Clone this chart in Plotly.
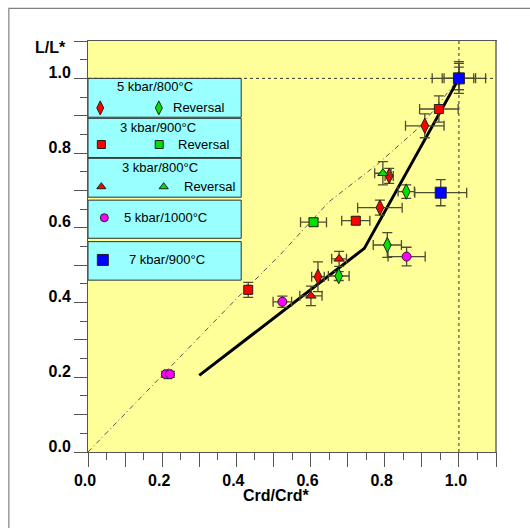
import plotly.graph_objects as go

# ---------------- data ----------------
# 5 kbar/800°C (red diamonds)
d58_x = [1.0, 0.908, 0.812, 0.787, 0.620]
d58_y = [1.0, 0.873, 0.739, 0.654, 0.469]
d58_ex = [0.072, 0.052, 0.011, 0.060, 0.017]
d58_ey = [0.040, 0.032, 0.020, 0.020, 0.040]
# 5 kbar/800°C reversal (green diamonds)
r58_x = [0.858, 0.807, 0.676]
r58_y = [0.697, 0.554, 0.471]
r58_ex = [0.022, 0.038, 0.028]
r58_ey = [0.018, 0.033, 0.012]
# 3 kbar/900°C (red squares)
d39_x = [1.0, 0.946, 0.722, 0.432]
d39_y = [1.0, 0.918, 0.619, 0.434]
d39_ex = [0.045, 0.052, 0.038, 0.004]
d39_ey = [0.030, 0.035, 0.010, 0.020]
# 3 kbar/900°C reversal (green squares)
r39_x = [0.608]
r39_y = [0.615]
r39_ex = [0.035]
r39_ey = [0.010]
# 3 kbar/800°C (red triangles)
d38_x = [0.677, 0.601]
d38_y = [0.517, 0.418]
d38_ex = [0.020, 0.030]
d38_ey = [0.020, 0.026]
# 3 kbar/800°C reversal (green triangles)
r38_x = [0.795]
r38_y = [0.746]
r38_ex = [0.022]
r38_ey = [0.031]
# 5 kbar/1000°C (magenta circles)
d510_x = [0.859, 0.524, 0.210, 0.221]
d510_y = [0.523, 0.402, 0.208, 0.208]
d510_ex = [0.050, 0.025, 0.004, 0.004]
d510_ey = [0.025, 0.015, 0.008, 0.008]
# 7 kbar/900°C (blue squares)
d79_x = [1.0, 0.951]
d79_y = [1.0, 0.694]
d79_ex = [0.040, 0.070]
d79_eyp = [0.045, 0.035]
d79_eym = [0.030, 0.035]

# trend lines
fit_x = [0.30, 0.745, 1.0]
fit_y = [0.205, 0.545, 1.0]
ref_x = [0.0, 0.2, 0.4, 0.52, 0.65, 0.78, 0.90, 1.0]
ref_y = [0.0, 0.205, 0.41, 0.53, 0.67, 0.77, 0.875, 1.0]

# axis ticks
tick_vals = [0.0, 0.1, 0.2, 0.3, 0.4, 0.5, 0.6, 0.7, 0.8, 0.9, 1.0, 1.1]
tick_text = ["0.0", "", "0.2", "", "0.4", "", "0.6", "", "0.8", "", "1.0", ""]

legend_titles = ["5 kbar/800°C", "3 kbar/900°C", "3 kbar/800°C", "5 kbar/1000°C", "7 kbar/900°C"]
reversal_label = "Reversal"

# ---------------- styles ----------------
RED = "#FF0000"
GREEN = "#00E000"
MAG = "#FF00FF"
BLUE = "#0000FF"
EBC = "#4d4d33"
FONT = "Liberation Sans, Arial, sans-serif"

fig = go.Figure()


def add_series(x, y, ex, ey, symbol, color, size, eym=None):
    ey_dict = dict(type="data", array=ey, color=EBC, thickness=1.3, width=5)
    if eym is not None:
        ey_dict["arrayminus"] = eym
        ey_dict["symmetric"] = False
    fig.add_trace(go.Scatter(
        x=x, y=y, mode="markers",
        marker=dict(symbol=symbol, color=color, size=size,
                    line=dict(color="#202020", width=1)),
        error_x=dict(type="data", array=ex, color=EBC, thickness=1.3, width=5),
        error_y=ey_dict,
        showlegend=False, hoverinfo="skip"))


# reference lines
fig.add_trace(go.Scatter(x=ref_x, y=ref_y, mode="lines",
                         line=dict(color="#555555", width=1, dash="5px,3px,1px,3px"),
                         showlegend=False, hoverinfo="skip"))
fig.add_trace(go.Scatter(x=fit_x, y=fit_y, mode="lines",
                         line=dict(color="black", width=3),
                         showlegend=False, hoverinfo="skip"))

add_series(d58_x, d58_y, d58_ex, d58_ey, "diamond-tall", RED, 11)
add_series(d39_x, d39_y, d39_ex, d39_ey, "square", RED, 9)
add_series(r58_x, r58_y, r58_ex, r58_ey, "diamond-tall", GREEN, 11)
add_series(r39_x, r39_y, r39_ex, r39_ey, "square", GREEN, 9)
add_series(d38_x, d38_y, d38_ex, d38_ey, "triangle-up", RED, 9)
add_series(r38_x, r38_y, r38_ex, r38_ey, "triangle-up", GREEN, 9)
add_series(d510_x, d510_y, d510_ex, d510_ey, "circle", MAG, 9)
add_series(d79_x, d79_y, d79_ex, d79_eyp, "square", BLUE, 11, eym=d79_eym)

# ---------------- legend boxes ----------------
BOX_X1 = 0.413
box_y = [(1.0, 0.896), (0.893, 0.788), (0.786, 0.682), (0.674, 0.572), (0.563, 0.460)]
shapes = [
    dict(type="line", xref="x", yref="y", x0=0, x1=1.1, y0=1.0, y1=1.0,
         line=dict(color="#333333", width=1, dash="dot"), layer="below"),
    dict(type="line", xref="x", yref="y", x0=1.0, x1=1.0, y0=0, y1=1.1,
         line=dict(color="#333333", width=1, dash="dot"), layer="below"),
]
for (yt, yb) in box_y:
    shapes.append(dict(type="rect", xref="x", yref="y", x0=0.0, x1=BOX_X1, y0=yb, y1=yt,
                       fillcolor="#99FFFF", line=dict(color="#303030", width=1), layer="below"))
# outer frame
shapes.append(dict(type="rect", xref="paper", yref="paper",
                   x0=-0.194, x1=1.12, y0=-0.22, y1=1.0796,
                   line=dict(color="#808080", width=1.2), fillcolor="rgba(0,0,0,0)", layer="below"))
# gray right border of plot area
shapes.append(dict(type="line", xref="paper", yref="paper", x0=1.0, x1=1.0, y0=0, y1=1,
                   line=dict(color="#8c8c8c", width=2), layer="above"))

# legend markers
leg_marks = [
    (0.033, 0.921, "diamond-tall", RED, 10),
    (0.191, 0.921, "diamond-tall", GREEN, 10),
    (0.036, 0.823, "square", RED, 8),
    (0.192, 0.823, "square", GREEN, 8),
    (0.036, 0.710, "triangle-up", RED, 8),
    (0.204, 0.710, "triangle-up", GREEN, 8),
    (0.044, 0.627, "circle", MAG, 8),
    (0.040, 0.514, "square", BLUE, 11),
]
for (lx, ly, sym, col, sz) in leg_marks:
    fig.add_trace(go.Scatter(x=[lx], y=[ly], mode="markers",
                             marker=dict(symbol=sym, color=col, size=sz,
                                         line=dict(color="#202020", width=1)),
                             showlegend=False, hoverinfo="skip"))

annotations = []
title_pos = [(0.181, 0.977), (0.188, 0.869), (0.195, 0.762), (0.209, 0.627), (0.214, 0.514)]
for t, (ax_, ay_) in zip(legend_titles, title_pos):
    annotations.append(dict(x=ax_, y=ay_, xref="x", yref="y", text=t, showarrow=False,
                            xanchor="center", yanchor="middle",
                            font=dict(family=FONT, size=13, color="black")))
for (ax_, ay_) in [(0.224, 0.921), (0.237, 0.823), (0.254, 0.710)]:
    annotations.append(dict(x=ax_, y=ay_, xref="x", yref="y", text=reversal_label, showarrow=False,
                            xanchor="left", yanchor="middle",
                            font=dict(family=FONT, size=13, color="black")))
# axis titles
annotations.append(dict(x=-0.0496, y=0.984, xref="paper", yref="paper", text="<b>L/L*</b>",
                        showarrow=False, xanchor="right", yanchor="middle",
                        font=dict(family=FONT, size=16, color="black")))
annotations.append(dict(x=0.462, y=-0.106, xref="paper", yref="paper", text="<b>Crd/Crd*</b>",
                        showarrow=False, xanchor="center", yanchor="middle",
                        font=dict(family=FONT, size=16, color="black")))

axis_common = dict(
    range=[0, 1.1], tickmode="array", tickvals=tick_vals, ticktext=tick_text,
    ticks="outside", ticklen=14, tickwidth=1, tickcolor="#555555",
    showline=True, linecolor="#555555", linewidth=1, mirror=True,
    showgrid=False, zeroline=False,
    tickfont=dict(family=FONT, size=16, color="black", weight="bold"),
    minor=dict(ticks="outside", ticklen=7, tickwidth=1, tickcolor="#555555",
               dtick=0.05, tick0=0, showgrid=False),
)

fig.update_layout(
    width=530, height=528,
    margin=dict(l=88, r=34, t=41, b=76),
    paper_bgcolor="white",
    plot_bgcolor="#FFFF99",
    xaxis=dict(axis_common, ticklabelshift=-3, ticklabelstandoff=0),
    yaxis=dict(axis_common, ticklen=13, ticklabelshift=-6),
    shapes=shapes,
    annotations=annotations,
    showlegend=False,
)

fig.write_html("out.html", config={"displayModeBar": False},
               post_script="document.body.style.margin='0px';document.body.style.overflow='hidden';")
